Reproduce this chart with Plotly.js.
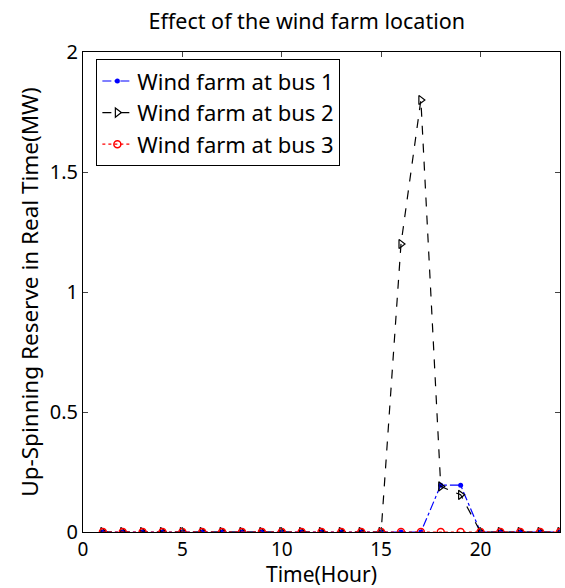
<!DOCTYPE html>
<html><head><meta charset="utf-8">
<script src="https://cdn.plot.ly/plotly-3.0.1.min.js"></script>
<style>html,body{margin:0;padding:0;background:#fff}</style>
</head><body><div id="chart" style="width:565px;height:588px"></div>
<script>
const hours = [1,2,3,4,5,6,7,8,9,10,11,12,13,14,15,16,17,18,19,20,21,22,23,24];
const bus1 = [0,0,0,0,0,0,0,0,0,0,0,0,0,0,0,0,0,0.195,0.195,0,0,0,0,0];
const bus2 = [0,0,0,0,0,0,0,0,0,0,0,0,0,0,0,1.2,1.8,0.19,0.155,0,0,0,0,0];
const bus3 = [0,0,0,0,0,0,0,0,0,0,0,0,0,0,0,0,0,0,0,0,0,0,0,0];
const names = ["Wind farm at bus 1","Wind farm at bus 2","Wind farm at bus 3"];
const xTicks = [0,5,10,15,20];
const yTicks = [0,0.5,1,1.5,2];
const yTickText = ["0","0.5","1","1.5","2"];
const F = "Noto Sans, Open Sans, DejaVu Sans, sans-serif";
const traces = [
 {x:hours,y:bus1,name:names[0],mode:'lines+markers',line:{color:'#0000ff',dash:'dashdot',width:1.2},marker:{symbol:'circle',size:5,color:'#0000ff'}},
 {x:hours,y:bus2,name:names[1],mode:'lines+markers',line:{color:'#000000',dash:'dash',width:1.2},marker:{symbol:'triangle-right-open',size:8,color:'#000000',line:{width:1.2}}},
 {x:hours,y:bus3,name:names[2],mode:'lines+markers',line:{color:'#ff0000',dash:'dot',width:1.2},marker:{symbol:'circle-open',size:7,color:'#ff0000',line:{width:1.5}}}
];
const layout = {
 width:565,height:588,paper_bgcolor:'#fff',plot_bgcolor:'#fff',
 margin:{l:83,r:5,t:52,b:56},
 title:{text:'Effect of the wind farm location',font:{family:F,size:21.5,color:'#000'},x:0.543,xanchor:'center',y:0.977,yanchor:'top'},
 xaxis:{range:[0,24],tickvals:xTicks,ticks:'inside',ticklen:5,mirror:'ticks',showline:true,linecolor:'#000',linewidth:1,showgrid:false,zeroline:false,
   tickfont:{family:F,size:19,color:'#000'},title:{text:'Time(Hour)',font:{family:F,size:21,color:'#000'},standoff:4}},
 yaxis:{range:[0,2],tickvals:yTicks,ticktext:yTickText,ticks:'inside',ticklen:5,mirror:'ticks',showline:true,linecolor:'#000',linewidth:1,showgrid:false,zeroline:false,
   tickfont:{family:F,size:20,color:'#000'},title:{text:'Up-Spinning Reserve in Real Time(MW)',font:{family:F,size:22.5,color:'#000'},standoff:4}},
 legend:{x:0.028,y:0.985,xanchor:'left',yanchor:'top',bgcolor:'#fff',bordercolor:'#000',borderwidth:1,font:{family:F,size:22,color:'#000'},tracegroupgap:0,itemwidth:30},
 showlegend:true
};
Plotly.newPlot('chart',traces,layout,{displayModeBar:false,staticPlot:true});
</script></body></html>
